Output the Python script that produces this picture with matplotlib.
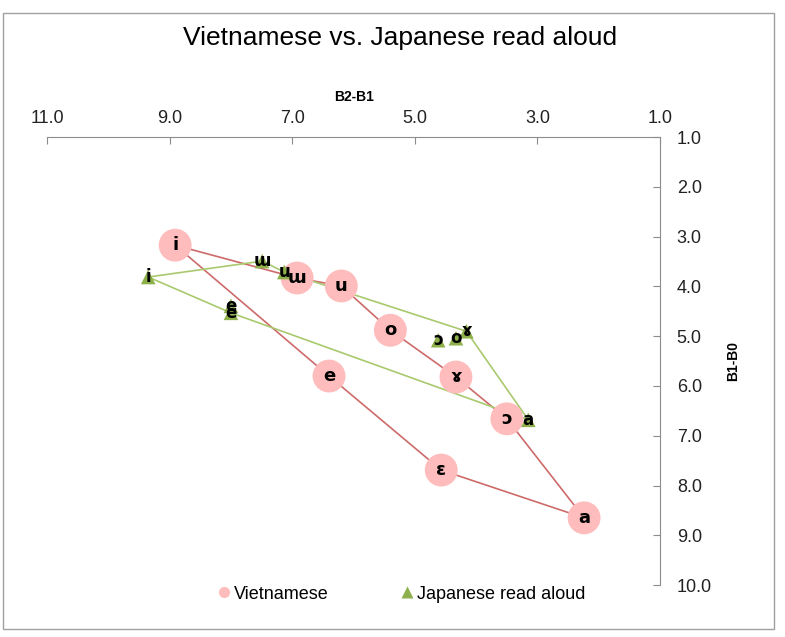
import matplotlib.pyplot as plt
from matplotlib.patches import Rectangle
from matplotlib.lines import Line2D

plt.rcParams['font.family'] = ['Liberation Sans', 'DejaVu Sans']

# Vietnamese vowels (B2-B1, B1-B0)
viet_labels = ['i', 'ɯ', 'u', 'o', 'ɤ', 'ɔ', 'a', 'ɛ', 'e']
viet_x = [8.91, 6.92, 6.20, 5.40, 4.33, 3.50, 2.24, 4.57, 6.40]
viet_y = [3.17, 3.83, 3.99, 4.88, 5.82, 6.66, 8.65, 7.69, 5.80]

# Japanese read aloud vowels
jap_labels = ['i', 'ɯ', 'u', 'e', 'e', 'ɔ', 'o', 'ɤ', 'a']
jap_x = [9.35, 7.49, 7.13, 8.00, 8.00, 4.62, 4.33, 4.16, 3.15]
jap_y = [3.81, 3.49, 3.71, 4.39, 4.53, 5.08, 5.04, 4.90, 6.68]

# outline order of the vowel polygons
viet_order = [0, 1, 2, 3, 4, 5, 6, 7, 8, 0]
jap_order = [0, 1, 2, 7, 8, 4, 0]

fig = plt.figure(figsize=(7.85, 6.37), dpi=100)
ax = fig.add_axes([0.0599, 0.0816, 0.781, 0.703])

ax.plot([viet_x[k] for k in viet_order], [viet_y[k] for k in viet_order],
        color='#cd6a6a', linewidth=1.2, zorder=2)
ax.plot([jap_x[k] for k in jap_order], [jap_y[k] for k in jap_order],
        color='#a9c96e', linewidth=1.2, zorder=2)

ax.scatter(viet_x, viet_y, s=560, color='#ffbcbc', edgecolors='none', zorder=3)
ax.scatter(jap_x, jap_y, s=110, marker='^', color='#8db04a', edgecolors='none', zorder=3)

for lab, x, y in zip(viet_labels, viet_x, viet_y):
    ax.text(x, y, lab, ha='center', va='center', fontsize=13, fontweight='bold',
            family=['DejaVu Sans'], zorder=4)
for lab, x, y in zip(jap_labels, jap_x, jap_y):
    ax.text(x, y, lab, ha='center', va='center', fontsize=12, fontweight='bold',
            family=['DejaVu Sans'], zorder=4)

ax.set_xlim(11, 1)
ax.set_ylim(10, 1)
ax.set_xticks([11, 9, 7, 5, 3, 1])
ax.set_yticks(range(1, 11))
ax.xaxis.set_major_formatter(plt.FormatStrFormatter('%.1f'))
ax.yaxis.set_major_formatter(plt.FormatStrFormatter('%.1f'))
ax.xaxis.tick_top()
ax.yaxis.tick_right()
ax.xaxis.set_label_position('top')
ax.yaxis.set_label_position('right')
for side in ['left', 'bottom']:
    ax.spines[side].set_visible(False)
for side in ['top', 'right']:
    ax.spines[side].set_color('#8c8c8c')
ax.tick_params(axis='both', direction='in', length=5, color='#8c8c8c',
               labelsize=13, labelcolor='#222222')
ax.tick_params(axis='x', pad=7)
ax.tick_params(axis='y', pad=12)
ax.set_xlabel('B2-B1', fontsize=10, fontweight='bold', labelpad=7)
ax.set_ylabel('B1-B0', fontsize=10, fontweight='bold', labelpad=10)

fig.text(0.51, 0.94, 'Vietnamese vs. Japanese read aloud', ha='center', va='center',
         fontsize=19)

handles = [
    Line2D([], [], linestyle='none', marker='o', markersize=8,
           markerfacecolor='#ffbcbc', markeredgecolor='none', label='Vietnamese'),
    Line2D([], [], linestyle='none', marker='^', markersize=8,
           markerfacecolor='#8db04a', markeredgecolor='none', label='Japanese read aloud'),
]
fig.legend(handles=handles, loc='center', bbox_to_anchor=(0.507, 0.0675), ncol=2,
           frameon=False, fontsize=13, handletextpad=-0.2, columnspacing=3.6,
           handlelength=1.5)

fig.patches.append(Rectangle((0.004, 0.012), 0.982, 0.968, transform=fig.transFigure,
                             fill=False, edgecolor='#a0a0a0', linewidth=1))

plt.savefig('out.png')
